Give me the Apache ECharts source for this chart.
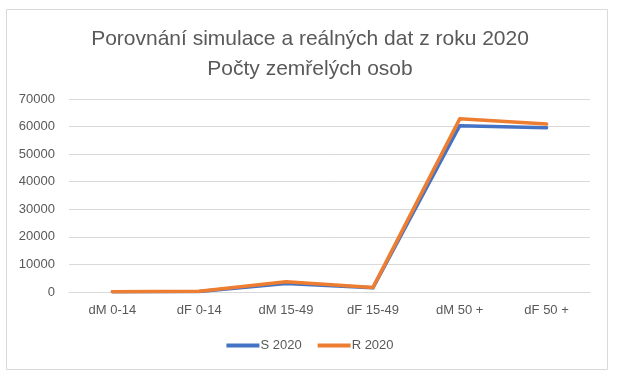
<!DOCTYPE html>
<html>
<head>
<meta charset="utf-8">
<script src="https://cdn.jsdelivr.net/npm/echarts@6/dist/echarts.min.js"></script>
<style>
  html, body { margin: 0; padding: 0; background: #fff; }
  #chart { width: 620px; height: 377px; }
</style>
</head>
<body>
<div id="chart"></div>
<script>
  // data
  var categories = ["dM 0-14", "dF 0-14", "dM 15-49", "dF 15-49", "dM 50 +", "dF 50 +"];
  var sim2020 = [100, 200, 3100, 1500, 60300, 59600];
  var real2020 = [100, 250, 3700, 1600, 62800, 60900];
  var yTicks = [0, 10000, 20000, 30000, 40000, 50000, 60000, 70000];

  var textColor = "#595959", font = "Liberation Sans";

  function line(name, data, color){
    return {
      name: name,
      type: "line",
      data: data,
      symbol: "none",
      lineStyle: {width: 3.5, color: color, cap: "round", join: "round"},
      itemStyle: {color: color},
      animation: false
    };
  }

  var chartDom = echarts.init(document.getElementById("chart"));
  chartDom.setOption({
    textStyle: {fontFamily: font},
    title: {
      text: "Porovnání simulace a reálných dat z roku 2020\nPočty zemřelých osob",
      left: "center",
      top: 19,
      textStyle: {fontSize: 21, fontWeight: "normal", color: textColor, lineHeight: 30, fontFamily: font}
    },
    graphic: [{
      type: "rect",
      shape: {x: 6.5, y: 9.5, width: 601, height: 360},
      style: {fill: "none", stroke: "#d9d9d9", lineWidth: 1},
      silent: true
    }],
    legend: {
      bottom: 20,
      left: "center",
      icon: "rect",
      itemWidth: 33,
      itemHeight: 4,
      itemGap: 16,
      textStyle: {fontSize: 13, color: textColor, padding: [0, 0, 0, -4]}
    },
    grid: {left: 69, right: 30, top: 99, bottom: 85},
    xAxis: {
      type: "category",
      data: categories,
      axisLine: {lineStyle: {color: "#d9d9d9"}},
      axisTick: {show: false},
      axisLabel: {color: textColor, fontSize: 13, margin: 12}
    },
    yAxis: {
      type: "value",
      min: yTicks[0],
      max: yTicks[yTicks.length - 1],
      interval: yTicks[1] - yTicks[0],
      axisLine: {show: false},
      axisTick: {show: false},
      splitLine: {lineStyle: {color: "#d9d9d9"}},
      axisLabel: {color: textColor, fontSize: 13, margin: 14, formatter: function(v){ return String(v); }}
    },
    series: [line("S 2020", sim2020, "#4472C4"), line("R 2020", real2020, "#ED7D31")]
  });
</script>
</body>
</html>
